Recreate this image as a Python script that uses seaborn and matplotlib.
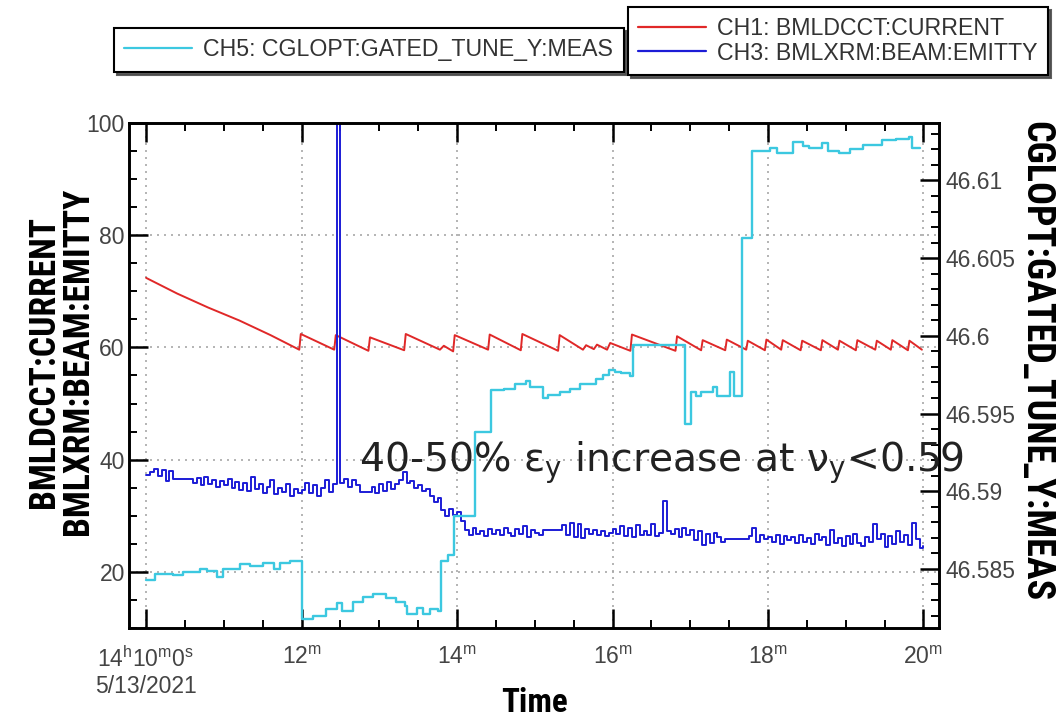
import numpy as np
import pandas as pd
import matplotlib
matplotlib.use("Agg")
import matplotlib.pyplot as plt
import seaborn as sns
from matplotlib import font_manager
from matplotlib.ticker import MultipleLocator
from matplotlib.lines import Line2D

# ---------------- data ----------------
# CH1: BMLDCCT:CURRENT  (left axis) - minutes after 14:00
red_time = [10.00, 10.40, 10.80, 11.20, 11.60, 11.97, 11.99, 12.42, 12.44, 12.86,
            12.88, 13.32, 13.34, 13.78, 13.83, 13.95, 13.97, 14.40, 14.42, 14.82,
            14.84, 15.30, 15.32, 15.62, 15.66, 15.76, 15.80, 15.93, 15.97, 16.23,
            16.25, 16.81, 16.83, 17.14, 17.16, 17.45, 17.47, 17.72, 17.74, 17.96,
            17.98, 18.17, 18.19, 18.42, 18.44, 18.68, 18.70, 18.90, 18.92, 19.13,
            19.15, 19.38, 19.40, 19.58, 19.60, 19.80, 19.82, 19.98]
red_current = [72.4, 69.6, 67.1, 64.8, 62.2, 59.6, 62.4, 59.6, 62.2, 59.4,
               61.8, 59.5, 62.4, 59.6, 60.3, 59.3, 62.2, 59.6, 62.3, 59.5,
               62.4, 59.4, 62.2, 59.6, 60.4, 59.7, 60.5, 59.6, 60.8, 59.4,
               62.3, 59.4, 62.0, 59.5, 61.3, 59.5, 61.4, 59.6, 61.2, 59.5,
               61.4, 59.6, 61.3, 59.5, 61.2, 59.5, 61.3, 59.6, 61.2, 59.5,
               61.3, 59.6, 61.2, 59.6, 61.3, 59.5, 61.2, 59.6]

# CH3: BMLXRM:BEAM:EMITTY (left axis), one sample every 3 s from 14:10:00
emittance_start = 10.0
emittance_step = 0.05
emittance = [
    37.2, 37.8, 38.4, 37.0, 38.2, 36.2, 37.9, 36.6, 36.6, 36.6, 36.6, 36.6, 35.8, 36.8, 35.4, 36.9, 35.6, 36.4, 35.2, 36.2,
    35.4, 36.6, 35.0, 36.0, 34.6, 35.8, 34.4, 36.9, 34.8, 35.6, 34.0, 35.2, 36.4, 33.8, 35.0, 34.2, 35.6, 33.6, 34.8, 34.0,
    34.6, 35.8, 34.0, 35.4, 33.6, 35.0, 36.4, 34.2, 35.6, 100.0, 35.8, 36.6, 35.2, 36.4, 35.4, 34.3, 34.3, 34.3, 35.2, 34.0,
    35.6, 34.4, 36.0, 34.8, 35.6, 36.4, 37.8, 35.8, 36.2, 35.0, 35.4, 34.4, 34.8, 33.6, 32.4, 33.2, 31.0, 30.0, 31.2, 30.2,
    30.6, 29.0, 27.4, 26.6, 27.8, 26.8, 27.2, 26.4, 27.6, 26.8, 27.4, 26.6, 27.8, 27.0, 26.4, 27.6, 26.8, 28.2, 26.2, 27.4,
    27.0, 26.6, 27.4, 27.4, 27.4, 27.4, 27.4, 28.4, 26.6, 28.8, 26.2, 28.6, 26.0, 27.6, 26.8, 27.4, 26.6, 27.2, 26.4, 27.0,
    27.6, 26.8, 28.2, 26.4, 27.8, 26.2, 28.4, 26.6, 27.2, 26.6, 28.6, 26.4, 27.0, 32.6, 27.2, 26.8, 27.6, 26.2, 27.8, 26.6,
    27.4, 25.6, 27.2, 24.8, 26.8, 25.2, 27.0, 26.2, 25.4, 25.8, 25.8, 25.8, 25.8, 25.8, 25.8, 26.4, 27.8, 25.4, 26.6, 25.8,
    26.2, 25.4, 26.6, 25.0, 26.4, 25.6, 26.2, 25.2, 26.6, 25.4, 26.0, 25.0, 26.8, 25.6, 26.2, 24.8, 27.4, 25.2, 26.0, 24.6,
    26.4, 25.0, 26.8, 25.2, 24.6, 26.2, 25.4, 28.6, 25.8, 26.8, 24.4, 26.4, 25.0, 27.2, 25.4, 26.6, 24.8, 28.8, 25.8, 24.2,
    24.6]

# CH5: CGLOPT:GATED_TUNE_Y:MEAS (right axis), step series
cyan_time = [10.00, 10.12, 10.35, 10.48, 10.69, 10.78, 10.91, 10.99, 11.21, 11.34, 11.51, 11.64, 11.72, 11.85,
             12.00, 12.15, 12.32, 12.45, 12.52, 12.66, 12.79, 12.92, 13.09, 13.22, 13.33, 13.35, 13.48, 13.56,
             13.65, 13.76, 13.80, 13.89, 13.96,
             14.23, 14.44, 14.60, 14.75, 14.89, 14.94, 15.11, 15.17, 15.32, 15.45, 15.58, 15.79, 15.88, 15.96,
             16.03, 16.11, 16.22, 16.26,
             16.93, 17.01, 17.08, 17.14, 17.29, 17.35, 17.51, 17.56, 17.66, 17.80, 18.02, 18.11, 18.32, 18.45,
             18.53, 18.70, 18.77, 18.92, 19.05, 19.22, 19.47, 19.65, 19.82, 19.85, 19.95]
cyan_tune = [46.5843, 46.5847, 46.5846, 46.5848, 46.5850, 46.5849, 46.5845, 46.5850, 46.5853, 46.5852, 46.5854, 46.5850, 46.5854, 46.5855,
             46.5818, 46.5820, 46.5824, 46.5828, 46.5823, 46.5829, 46.5832, 46.5834, 46.5831, 46.5829, 46.5826, 46.5821, 46.5825, 46.5821,
             46.5824, 46.5823, 46.5855, 46.5859, 46.5884,
             46.5938, 46.5965, 46.5966, 46.5969, 46.5971, 46.5967, 46.5960, 46.5962, 46.5964, 46.5966, 46.5969, 46.5972, 46.5975, 46.5978,
             46.5977, 46.5976, 46.5974, 46.5994,
             46.5943, 46.5964, 46.5961, 46.5964, 46.5967, 46.5961, 46.5977, 46.5961, 46.6063, 46.6119, 46.6121, 46.6118, 46.6125, 46.6122,
             46.6121, 46.6124, 46.6119, 46.6118, 46.6120, 46.6123, 46.6126, 46.6127, 46.6128, 46.6121, 46.6121]

x_ticks = [10, 12, 14, 16, 18, 20]
x_tick_labels = [r"14$^{h}$10$^{m}$0$^{s}$" + "\n5/13/2021", r"12$^{m}$", r"14$^{m}$",
                 r"16$^{m}$", r"18$^{m}$", r"20$^{m}$"]
left_ticks = [20, 40, 60, 80, 100]
left_tick_labels = ["20", "40", "60", "80", "100"]
right_ticks = [46.585, 46.59, 46.595, 46.6, 46.605, 46.61]
right_tick_labels = ["46.585", "46.59", "46.595", "46.6", "46.605", "46.61"]
legend_labels = ["CH5: CGLOPT:GATED_TUNE_Y:MEAS", "CH1: BMLDCCT:CURRENT", "CH3: BMLXRM:BEAM:EMITTY"]
annotation = r"40-50% ε$_{y}$ increase at ν$_{y}$<0.59"

# ---------------- style ----------------
RED = "#e02828"
BLUE = "#1c1cd6"
CYAN = "#3cc8e0"
TICKC = "#444444"

sns.set_style("white")
names = {f.name for f in font_manager.fontManager.ttflist}
plt.rcParams["font.family"] = ["Liberation Sans", "DejaVu Sans"]
plt.rcParams["mathtext.default"] = "regular"
if "Liberation Sans Narrow" in names:
    label_family = ["Liberation Sans Narrow", "Liberation Sans", "DejaVu Sans"]
    lscale = 1.0 / 0.82
elif "Roboto Condensed" in names:
    label_family = ["Roboto Condensed", "Liberation Sans", "DejaVu Sans"]
    lscale = 1.0 / 0.84
else:
    label_family = ["Liberation Sans", "DejaVu Sans"]
    lscale = 1.0

fig = plt.figure(figsize=(10.58, 7.2), dpi=100)
ax = fig.add_axes([129 / 1058, 1 - 628 / 720, 810 / 1058, 505 / 720])
ax2 = ax.twinx()

df_red = pd.DataFrame({"t": red_time, "v": red_current})
sns.lineplot(data=df_red, x="t", y="v", ax=ax, color=RED, lw=1.4,
             estimator=None, sort=False)
emit_time = emittance_start + emittance_step * np.arange(len(emittance))
df_blue = pd.DataFrame({"t": emit_time, "v": emittance})
sns.lineplot(data=df_blue, x="t", y="v", ax=ax, color=BLUE, lw=1.4,
             drawstyle="steps-post", estimator=None, sort=False)
df_cyan = pd.DataFrame({"t": cyan_time, "v": cyan_tune})
sns.lineplot(data=df_cyan, x="t", y="v", ax=ax2, color=CYAN, lw=1.7,
             drawstyle="steps-post", estimator=None, sort=False)

ax.set_xlim(9.78, 20.2)
ax.set_ylim(10, 100)
ax2.set_ylim(46.5812, 46.6137)

ax.set_xticks(x_ticks)
ax.set_xticklabels(x_tick_labels)
ax.xaxis.set_minor_locator(MultipleLocator(0.5))
ax.set_yticks(left_ticks)
ax.set_yticklabels(left_tick_labels)
ax.yaxis.set_minor_locator(MultipleLocator(5))
ax2.set_yticks(right_ticks)
ax2.set_yticklabels(right_tick_labels)
ax2.yaxis.set_minor_locator(MultipleLocator(0.001))

for a in (ax, ax2):
    a.tick_params(which="major", direction="in", length=14, width=1.8, color="k")
    a.tick_params(which="minor", direction="in", length=6, width=1.4, color="k")
    for s in a.spines.values():
        s.set_color("k")
        s.set_linewidth(1.9)
ax.tick_params(axis="x", which="both", top=True, bottom=True, labelsize=16.5,
               labelcolor=TICKC, pad=13)
ax.tick_params(axis="y", which="both", left=True, right=False, labelsize=16.5,
               labelcolor=TICKC, pad=3)
ax2.tick_params(axis="y", which="both", right=True, left=False, labelsize=16.5,
                labelcolor=TICKC, pad=5)
ax2.tick_params(axis="x", which="both", top=False, bottom=False)

ax.grid(True, which="major", color="#a8a8a8", linestyle=(0, (1.2, 3)), lw=1.2)
ax2.grid(False)

ax.set_xlabel("Time", fontsize=20 * lscale, fontweight="bold", family=label_family,
              color="k", va="center")
ax.xaxis.set_label_coords(0.5, -0.1485)
ax.set_ylabel("BMLDCCT:CURRENT\nBMLXRM:BEAM:EMITTY", fontsize=21.5 * lscale,
              fontweight="bold", family=label_family, color="k",
              linespacing=0.95, va="center", ha="center")
ax.yaxis.set_label_coords(-0.084, 0.527)
ax2.set_ylabel("CGLOPT:GATED_TUNE_Y:MEAS", fontsize=23 * lscale, fontweight="bold",
               family=label_family, color="k", rotation=-90, va="center", ha="center")
ax2.yaxis.set_label_coords(1.119, 0.529)

ax2.text(12.735, 37.8, annotation, transform=ax.transData, fontsize=28.4,
         family="DejaVu Sans", color="#222222", ha="left", va="baseline",
         clip_on=False, zorder=10)

leg_kw = dict(loc="upper left", bbox_transform=fig.transFigure, frameon=True,
              fancybox=False, edgecolor="k", framealpha=1, borderpad=0.45,
              handlelength=2.9, handletextpad=0.5, labelspacing=0.05,
              borderaxespad=0, prop={"family": "Liberation Sans", "size": 16.7},
              labelcolor="#333333", shadow={"alpha": 0.9})
h_cyan = Line2D([], [], color=CYAN, lw=1.6)
h_red = Line2D([], [], color=RED, lw=1.6)
h_blue = Line2D([], [], color=BLUE, lw=1.6)
leg1 = fig.legend([h_cyan], legend_labels[:1], bbox_to_anchor=(114 / 1058, 1 - 28 / 720), **leg_kw)
leg2 = fig.legend([h_red, h_blue], legend_labels[1:], bbox_to_anchor=(628 / 1058, 1 - 7 / 720), **leg_kw)
for lg in (leg1, leg2):
    lg.get_frame().set_linewidth(1.5)

fig.savefig("out.png", dpi=100)
